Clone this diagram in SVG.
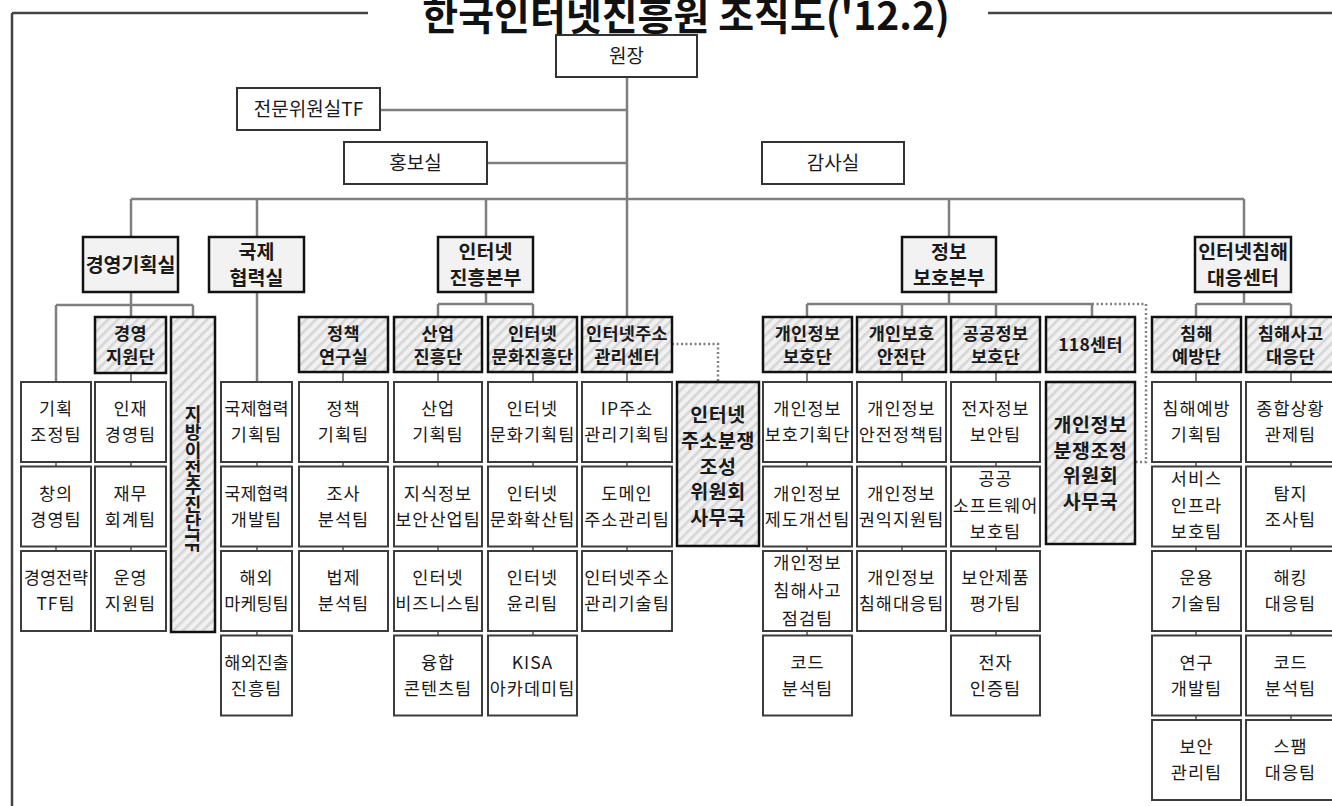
<svg xmlns="http://www.w3.org/2000/svg" width="1332" height="806" viewBox="0 0 1332 806">
<defs>
<pattern id="hatch" patternUnits="userSpaceOnUse" width="7" height="7" patternTransform="rotate(45)">
<rect width="7" height="7" fill="#f1f1f1"/>
<rect width="2.6" height="7" fill="#d6d6d6"/>
</pattern>
</defs>
<style>
text { font-family: "Noto Sans CJK KR", "Noto Sans", sans-serif; fill: #1a1a1a; text-anchor: middle; }
.r { font-size: 17.5px; font-weight: 400; letter-spacing: 1px; }
.b2 { font-size: 19.5px; font-weight: 700; }
.b3 { font-size: 17.5px; font-weight: 700; letter-spacing: 0.3px; }
.bc { font-size: 19.5px; font-weight: 700; letter-spacing: 0.5px; }
.tp { font-size: 19px; font-weight: 400; }
.title { font-size: 39px; font-weight: 700; fill: #111; }
.box { fill: #fff; stroke: #3c3c3c; stroke-width: 2; }
.top { fill: #fff; stroke: #333; stroke-width: 2; }
.l2 { fill: #f2f2f2; stroke: #111; stroke-width: 2.5; }
.l3 { fill: url(#hatch); stroke: #111; stroke-width: 2.5; }
.c { stroke: #7f7f7f; stroke-width: 2.5; fill: none; }
.cs { stroke: #7f7f7f; stroke-width: 2; fill: none; }
.d { stroke: #808080; stroke-width: 2.5; fill: none; stroke-dasharray: 2 2.5; }
.frame { stroke: #444; stroke-width: 2.5; fill: none; }
</style>

<g id="frame">
<path class="frame" d="M12,13 H368 M988,13 H1332 M12,13 V806"/>
<text class="title" x="686" y="30">한국인터넷진흥원 조직도('12.2)</text>
</g>

<g id="connectors">
<path class="c" d="M627,77 V317 M380,110 H627 M487,163 H627 M131,199 H1244"/>
<path class="c" d="M131,199 V237 M257,199 V237 M486,199 V237 M949,199 V237 M1244,199 V237"/>
<path class="c" d="M131,292 V305 M56,305 H193 M56,305 V382 M131,305 V317 M193,305 V317"/>
<path class="c" d="M257,292 V382"/>
<path class="c" d="M486,292 V304 M438,304 H533 M438,304 V317 M533,304 V317"/>
<path class="c" d="M949,292 V304 M807,304 H1092 M807,304 V317 M902,304 V317 M996,304 V317 M1092,304 V317"/>
<path class="c" d="M1244,292 V304 M1196,304 H1291 M1196,304 V317 M1291,304 V317"/>
<path class="d" d="M672,344 H718 V382"/>
<path class="d" d="M1092,304 H1146 V462 H1135"/>
<path class="cs" d="M131,373 V382 M343,372 V382 M438,372 V382 M533,372 V382 M627,372 V382 M807,372 V382 M902,372 V382 M996,372 V382 M1196,372 V382 M1291,372 V382"/>
<path class="cs" d="M56,462 V466.5 M56,546.5 V551 M131,462 V466.5 M131,546.5 V551 M257,462 V466.5 M257,546.5 V551 M257,631 V635.5 M343,462 V466.5 M343,546.5 V551 M438,462 V466.5 M438,546.5 V551 M438,631 V635.5 M533,462 V466.5 M533,546.5 V551 M533,631 V635.5 M627,462 V466.5 M627,546.5 V551 M807,462 V466.5 M807,546.5 V551 M807,631 V635.5 M902,462 V466.5 M902,546.5 V551 M996,462 V466.5 M996,546.5 V551 M996,631 V635.5 M1196,462 V466.5 M1196,546.5 V551 M1196,631 V635.5 M1196,715.5 V720 M1291,462 V466.5 M1291,546.5 V551 M1291,631 V635.5 M1291,715.5 V720"/>
</g>

<g id="n-wonjang"><rect class="top" x="556" y="35" width="141" height="42"/><text class="tp" x="626.5" y="63">원장</text></g>
<g id="n-tf"><rect class="top" x="237" y="88" width="143" height="42"/><text class="tp" x="308.5" y="116">전문위원실TF</text></g>
<g id="n-pr"><rect class="top" x="344" y="142" width="143" height="42"/><text class="tp" x="415.5" y="170">홍보실</text></g>
<g id="n-audit"><rect class="top" x="762" y="142" width="142" height="42"/><text class="tp" x="833" y="170">감사실</text></g>

<g id="n-mgmt"><rect class="l2" x="83" y="237" width="95" height="55"/><text class="b2" x="130.5" y="271.5">경영기획실</text></g>
<g id="n-intl"><rect class="l2" x="209" y="237" width="95" height="55"/><text class="b2" x="256.5" y="259">국제</text><text class="b2" x="256.5" y="285">협력실</text></g>
<g id="n-promo"><rect class="l2" x="438" y="237" width="95" height="55"/><text class="b2" x="485.5" y="259">인터넷</text><text class="b2" x="485.5" y="285">진흥본부</text></g>
<g id="n-sec"><rect class="l2" x="902" y="237" width="94" height="55"/><text class="b2" x="949" y="259">정보</text><text class="b2" x="949" y="285">보호본부</text></g>
<g id="n-krcert"><rect class="l2" x="1195" y="237" width="96" height="55"/><text class="b2" x="1243" y="259">인터넷침해</text><text class="b2" x="1243" y="285">대응센터</text></g>

<g id="n-mgmtsup"><rect class="l3" x="95" y="317" width="71" height="56"/><text class="b3" x="130.5" y="339.5">경영</text><text class="b3" x="130.5" y="363">지원단</text></g>
<g id="n-relocate"><rect class="l3" x="171" y="317" width="44" height="315"/><text class="b3" x="193" y="479" style="writing-mode: vertical-rl; font-size:18px; letter-spacing:0;">지방이전추진단TF</text></g>
<g id="n-policy"><rect class="l3" x="299" y="317" width="89" height="55"/><text class="b3" x="343.5" y="339.5">정책</text><text class="b3" x="343.5" y="363">연구실</text></g>
<g id="n-industry"><rect class="l3" x="394" y="317" width="88" height="55"/><text class="b3" x="438" y="339.5">산업</text><text class="b3" x="438" y="363">진흥단</text></g>
<g id="n-culture"><rect class="l3" x="488" y="317" width="89" height="55"/><text class="b3" x="532.5" y="339.5">인터넷</text><text class="b3" x="532.5" y="363">문화진흥단</text></g>
<g id="n-addr"><rect class="l3" x="582" y="317" width="90" height="55"/><text class="b3" x="627" y="339.5">인터넷주소</text><text class="b3" x="627" y="363">관리센터</text></g>
<g id="n-privacy"><rect class="l3" x="763" y="317" width="89" height="55"/><text class="b3" x="807.5" y="339.5">개인정보</text><text class="b3" x="807.5" y="363">보호단</text></g>
<g id="n-safety"><rect class="l3" x="857" y="317" width="89" height="55"/><text class="b3" x="901.5" y="339.5">개인보호</text><text class="b3" x="901.5" y="363">안전단</text></g>
<g id="n-public"><rect class="l3" x="951" y="317" width="89" height="55"/><text class="b3" x="995.5" y="339.5">공공정보</text><text class="b3" x="995.5" y="363">보호단</text></g>
<g id="n-118"><rect class="l3" x="1046" y="317" width="89" height="55"/><text class="b3" x="1090.5" y="351">118센터</text></g>
<g id="n-prevent"><rect class="l3" x="1152" y="317" width="89" height="55"/><text class="b3" x="1196.5" y="339.5">침해</text><text class="b3" x="1196.5" y="363">예방단</text></g>
<g id="n-incident"><rect class="l3" x="1246" y="317" width="89" height="55"/><text class="b3" x="1290.5" y="339.5">침해사고</text><text class="b3" x="1290.5" y="363">대응단</text></g>

<g id="n-addrdispute"><rect class="l3" x="677" y="382" width="82" height="164"/>
<text class="bc" x="718" y="422">인터넷</text><text class="bc" x="718" y="447.7">주소분쟁</text><text class="bc" x="718" y="473.5">조성</text><text class="bc" x="718" y="499">위원회</text><text class="bc" x="718" y="525">사무국</text></g>
<g id="n-privdispute"><rect class="l3" x="1046" y="382" width="89" height="162"/>
<text class="bc" x="1090.5" y="432">개인정보</text><text class="bc" x="1090.5" y="457.5">분쟁조정</text><text class="bc" x="1090.5" y="483">위원회</text><text class="bc" x="1090.5" y="508.5">사무국</text></g>

<!-- column A -->
<g id="t-a1"><rect class="box" x="21" y="382" width="70" height="80"/><text class="r" x="56" y="415.3">기획</text><text class="r" x="56" y="441.3">조정팀</text></g>
<g id="t-a2"><rect class="box" x="21" y="466.5" width="70" height="80"/><text class="r" x="56" y="499.8">창의</text><text class="r" x="56" y="525.8">경영팀</text></g>
<g id="t-a3"><rect class="box" x="21" y="551" width="70" height="80"/><text class="r" x="56" y="584.3" style="letter-spacing:0">경영전략</text><text class="r" x="56" y="610.3">TF팀</text></g>
<!-- column B -->
<g id="t-b1"><rect class="box" x="95" y="382" width="71" height="80"/><text class="r" x="130.5" y="415.3">인재</text><text class="r" x="130.5" y="441.3">경영팀</text></g>
<g id="t-b2"><rect class="box" x="95" y="466.5" width="71" height="80"/><text class="r" x="130.5" y="499.8">재무</text><text class="r" x="130.5" y="525.8">회계팀</text></g>
<g id="t-b3"><rect class="box" x="95" y="551" width="71" height="80"/><text class="r" x="130.5" y="584.3">운영</text><text class="r" x="130.5" y="610.3">지원팀</text></g>
<!-- column D -->
<g id="t-d1"><rect class="box" x="221" y="382" width="71" height="80"/><text class="r" x="256.5" y="415.3" style="letter-spacing:0">국제협력</text><text class="r" x="256.5" y="441.3">기획팀</text></g>
<g id="t-d2"><rect class="box" x="221" y="466.5" width="71" height="80"/><text class="r" x="256.5" y="499.8" style="letter-spacing:0">국제협력</text><text class="r" x="256.5" y="525.8">개발팀</text></g>
<g id="t-d3"><rect class="box" x="221" y="551" width="71" height="80"/><text class="r" x="256.5" y="584.3">해외</text><text class="r" x="256.5" y="610.3" style="letter-spacing:0">마케팅팀</text></g>
<g id="t-d4"><rect class="box" x="221" y="635.5" width="71" height="80"/><text class="r" x="256.5" y="668.8" style="letter-spacing:0">해외진출</text><text class="r" x="256.5" y="694.8">진흥팀</text></g>
<!-- column E -->
<g id="t-e1"><rect class="box" x="299" y="382" width="89" height="80"/><text class="r" x="343.5" y="415.3">정책</text><text class="r" x="343.5" y="441.3">기획팀</text></g>
<g id="t-e2"><rect class="box" x="299" y="466.5" width="89" height="80"/><text class="r" x="343.5" y="499.8">조사</text><text class="r" x="343.5" y="525.8">분석팀</text></g>
<g id="t-e3"><rect class="box" x="299" y="551" width="89" height="80"/><text class="r" x="343.5" y="584.3">법제</text><text class="r" x="343.5" y="610.3">분석팀</text></g>
<!-- column F -->
<g id="t-f1"><rect class="box" x="394" y="382" width="88" height="80"/><text class="r" x="438" y="415.3">산업</text><text class="r" x="438" y="441.3">기획팀</text></g>
<g id="t-f2"><rect class="box" x="394" y="466.5" width="88" height="80"/><text class="r" x="438" y="499.8">지식정보</text><text class="r" x="438" y="525.8">보안산업팀</text></g>
<g id="t-f3"><rect class="box" x="394" y="551" width="88" height="80"/><text class="r" x="438" y="584.3">인터넷</text><text class="r" x="438" y="610.3">비즈니스팀</text></g>
<g id="t-f4"><rect class="box" x="394" y="635.5" width="88" height="80"/><text class="r" x="438" y="668.8">융합</text><text class="r" x="438" y="694.8">콘텐츠팀</text></g>
<!-- column G -->
<g id="t-g1"><rect class="box" x="488" y="382" width="89" height="80"/><text class="r" x="532.5" y="415.3">인터넷</text><text class="r" x="532.5" y="441.3">문화기획팀</text></g>
<g id="t-g2"><rect class="box" x="488" y="466.5" width="89" height="80"/><text class="r" x="532.5" y="499.8">인터넷</text><text class="r" x="532.5" y="525.8">문화확산팀</text></g>
<g id="t-g3"><rect class="box" x="488" y="551" width="89" height="80"/><text class="r" x="532.5" y="584.3">인터넷</text><text class="r" x="532.5" y="610.3">윤리팀</text></g>
<g id="t-g4"><rect class="box" x="488" y="635.5" width="89" height="80"/><text class="r" x="532.5" y="668.8">KISA</text><text class="r" x="532.5" y="694.8">아카데미팀</text></g>
<!-- column H -->
<g id="t-h1"><rect class="box" x="582" y="382" width="90" height="80"/><text class="r" x="627" y="415.3">IP주소</text><text class="r" x="627" y="441.3">관리기획팀</text></g>
<g id="t-h2"><rect class="box" x="582" y="466.5" width="90" height="80"/><text class="r" x="627" y="499.8">도메인</text><text class="r" x="627" y="525.8">주소관리팀</text></g>
<g id="t-h3"><rect class="box" x="582" y="551" width="90" height="80"/><text class="r" x="627" y="584.3">인터넷주소</text><text class="r" x="627" y="610.3">관리기술팀</text></g>
<!-- column J -->
<g id="t-j1"><rect class="box" x="763" y="382" width="89" height="80"/><text class="r" x="807.5" y="415.3">개인정보</text><text class="r" x="807.5" y="441.3">보호기획단</text></g>
<g id="t-j2"><rect class="box" x="763" y="466.5" width="89" height="80"/><text class="r" x="807.5" y="499.8">개인정보</text><text class="r" x="807.5" y="525.8">제도개선팀</text></g>
<g id="t-j3"><rect class="box" x="763" y="551" width="89" height="80"/><text class="r" x="807.5" y="569">개인정보</text><text class="r" x="807.5" y="597.3">침해사고</text><text class="r" x="807.5" y="625">점검팀</text></g>
<g id="t-j4"><rect class="box" x="763" y="635.5" width="89" height="80"/><text class="r" x="807.5" y="668.8">코드</text><text class="r" x="807.5" y="694.8">분석팀</text></g>
<!-- column K -->
<g id="t-k1"><rect class="box" x="857" y="382" width="89" height="80"/><text class="r" x="901.5" y="415.3">개인정보</text><text class="r" x="901.5" y="441.3">안전정책팀</text></g>
<g id="t-k2"><rect class="box" x="857" y="466.5" width="89" height="80"/><text class="r" x="901.5" y="499.8">개인정보</text><text class="r" x="901.5" y="525.8">권익지원팀</text></g>
<g id="t-k3"><rect class="box" x="857" y="551" width="89" height="80"/><text class="r" x="901.5" y="584.3">개인정보</text><text class="r" x="901.5" y="610.3">침해대응팀</text></g>
<!-- column L -->
<g id="t-l1"><rect class="box" x="951" y="382" width="89" height="80"/><text class="r" x="995.5" y="415.3">전자정보</text><text class="r" x="995.5" y="441.3">보안팀</text></g>
<g id="t-l2"><rect class="box" x="951" y="466.5" width="89" height="80"/><text class="r" x="995.5" y="484.5">공공</text><text class="r" x="995.5" y="512">소프트웨어</text><text class="r" x="995.5" y="538">보호팀</text></g>
<g id="t-l3"><rect class="box" x="951" y="551" width="89" height="80"/><text class="r" x="995.5" y="584.3">보안제품</text><text class="r" x="995.5" y="610.3">평가팀</text></g>
<g id="t-l4"><rect class="box" x="951" y="635.5" width="89" height="80"/><text class="r" x="995.5" y="668.8">전자</text><text class="r" x="995.5" y="694.8">인증팀</text></g>
<!-- column N -->
<g id="t-n1"><rect class="box" x="1152" y="382" width="89" height="80"/><text class="r" x="1196.5" y="415.3">침해예방</text><text class="r" x="1196.5" y="441.3">기획팀</text></g>
<g id="t-n2"><rect class="box" x="1152" y="466.5" width="89" height="80"/><text class="r" x="1196.5" y="484.5">서비스</text><text class="r" x="1196.5" y="512">인프라</text><text class="r" x="1196.5" y="538">보호팀</text></g>
<g id="t-n3"><rect class="box" x="1152" y="551" width="89" height="80"/><text class="r" x="1196.5" y="584.3">운용</text><text class="r" x="1196.5" y="610.3">기술팀</text></g>
<g id="t-n4"><rect class="box" x="1152" y="635.5" width="89" height="80"/><text class="r" x="1196.5" y="668.8">연구</text><text class="r" x="1196.5" y="694.8">개발팀</text></g>
<g id="t-n5"><rect class="box" x="1152" y="720" width="89" height="80"/><text class="r" x="1196.5" y="753.3">보안</text><text class="r" x="1196.5" y="779.3">관리팀</text></g>
<!-- column O -->
<g id="t-o1"><rect class="box" x="1246" y="382" width="89" height="80"/><text class="r" x="1290.5" y="415.3">종합상황</text><text class="r" x="1290.5" y="441.3">관제팀</text></g>
<g id="t-o2"><rect class="box" x="1246" y="466.5" width="89" height="80"/><text class="r" x="1290.5" y="499.8">탐지</text><text class="r" x="1290.5" y="525.8">조사팀</text></g>
<g id="t-o3"><rect class="box" x="1246" y="551" width="89" height="80"/><text class="r" x="1290.5" y="584.3">해킹</text><text class="r" x="1290.5" y="610.3">대응팀</text></g>
<g id="t-o4"><rect class="box" x="1246" y="635.5" width="89" height="80"/><text class="r" x="1290.5" y="668.8">코드</text><text class="r" x="1290.5" y="694.8">분석팀</text></g>
<g id="t-o5"><rect class="box" x="1246" y="720" width="89" height="80"/><text class="r" x="1290.5" y="753.3">스팸</text><text class="r" x="1290.5" y="779.3">대응팀</text></g>
</svg>
